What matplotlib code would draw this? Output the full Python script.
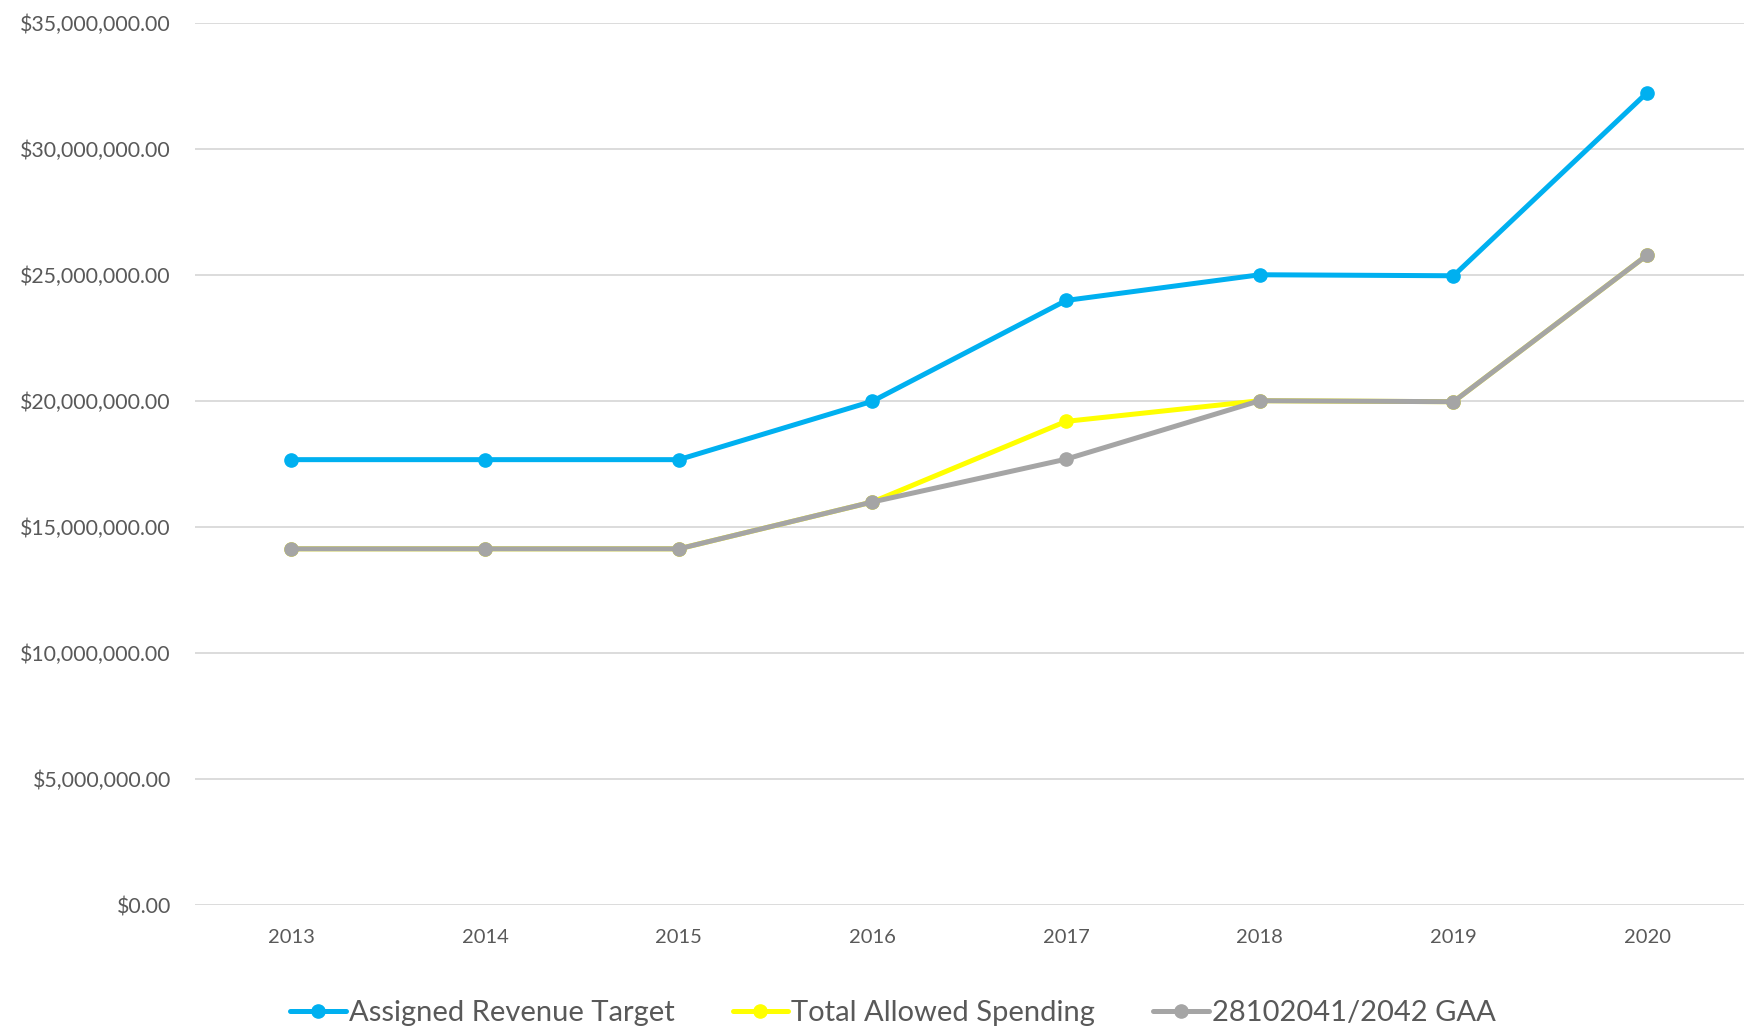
import matplotlib
matplotlib.use('Agg')
import matplotlib.pyplot as plt
from matplotlib.ticker import FuncFormatter

years = ['2013', '2014', '2015', '2016', '2017', '2018', '2019', '2020']
revenue_target = [17.68e6, 17.68e6, 17.68e6, 20.0e6, 24.0e6, 25.02e6, 24.98e6, 32.25e6]
allowed_spending = [14.14e6, 14.14e6, 14.14e6, 16.0e6, 19.2e6, 20.02e6, 19.98e6, 25.8e6]
gaa = [14.14e6, 14.14e6, 14.14e6, 16.0e6, 17.7e6, 20.02e6, 19.98e6, 25.8e6]

series = [
    ('Assigned Revenue Target', revenue_target, '#00B0F0'),
    ('Total Allowed Spending', allowed_spending, '#FFFF00'),
    ('28102041/2042 GAA', gaa, '#A5A5A5'),
]

plt.rcParams['font.family'] = ['Lato', 'DejaVu Sans']

fig = plt.figure(figsize=(17.44, 10.29), dpi=100)
ax = fig.add_axes([0.1116, 0.1205, 0.8884, 0.8568])

x = range(len(years))
for name, vals, color in series:
    ax.plot(x, vals, color=color, linewidth=3.6, marker='o', markersize=9.5,
            label=name, solid_capstyle='round')

ax.set_xlim(-0.5, len(years) - 0.5)
ax.set_ylim(0, 35e6)
ax.set_yticks([i * 5e6 for i in range(8)])
ax.set_xticks(list(x))
ax.set_xticklabels(years)
ax.yaxis.set_major_formatter(FuncFormatter(lambda v, p: '${:,.2f}'.format(v)))

# Excel-ish styling
for s in ax.spines.values():
    s.set_visible(False)
ax.grid(axis='y', color='#D9D9D9', linewidth=1.3)
ax.set_axisbelow(True)
ax.tick_params(length=0, labelcolor='#595959')
ax.tick_params(axis='y', pad=17, labelsize=15.3)
ax.tick_params(axis='x', pad=17.5, labelsize=14.5)

fig.legend(loc='center', bbox_to_anchor=(0.512, 0.0155), ncol=3, frameon=False,
           fontsize=21, handlelength=1.9, handletextpad=0.1, columnspacing=2.0,
           labelcolor='#595959')

fig.savefig('out.png', dpi=100)
